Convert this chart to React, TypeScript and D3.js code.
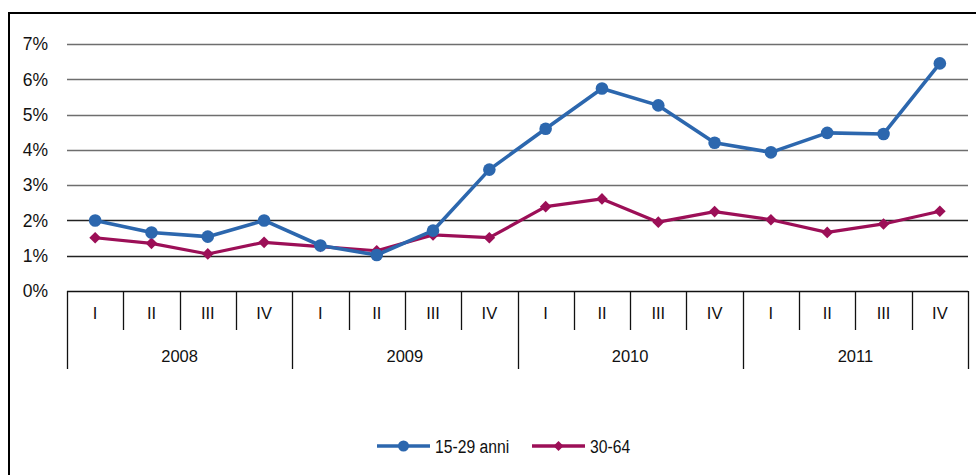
import * as d3 from "d3";
import { useEffect, useRef } from "react";

const YEARS = ["2008", "2009", "2010", "2011"];
const QUARTERS = ["I", "II", "III", "IV"];
const Y_TICKS = [0, 0.01, 0.02, 0.03, 0.04, 0.05, 0.06, 0.07];

// quarterly values, 2008 Q1 .. 2011 Q4
const YOUNG = [
  0.02, 0.0166, 0.0154, 0.02, 0.0129, 0.0102, 0.0171, 0.0344,
  0.046, 0.0574, 0.0526, 0.042, 0.0393, 0.0448, 0.0445, 0.0645,
];
const ADULT = [
  0.0151, 0.0135, 0.0105, 0.0138, 0.0126, 0.0114, 0.0159, 0.0151,
  0.0239, 0.0261, 0.0195, 0.0225, 0.0202, 0.0166, 0.019, 0.0226,
];

const BLUE = "#2c67ae";
const RED = "#9c0f57";
const FONT = "'Liberation Sans', Arial, sans-serif";

export default function App() {
  const svgRef = useRef<SVGSVGElement>(null);

  useEffect(() => {
    if (!svgRef.current) return;
    const W = 976;
    const H = 475;
    const svg = d3.select(svgRef.current);
    svg.selectAll("*").remove();
    svg.attr("width", W).attr("height", H);

    // outer frame (only top and left visible)
    svg
      .append("rect")
      .attr("x", 9)
      .attr("y", 13)
      .attr("width", 1000)
      .attr("height", 600)
      .attr("fill", "none")
      .attr("stroke", "#000")
      .attr("stroke-width", 2);

    const cats = YEARS.flatMap((y) => QUARTERS.map((q) => `${y}-${q}`));
    const x = d3.scaleBand<string>().domain(cats).range([67, 968]);
    const y = d3.scaleLinear().domain([0, 0.07]).range([291, 44]);
    const cx = (i: number) => (x(cats[i]) ?? 0) + x.bandwidth() / 2;

    // gridlines
    svg
      .append("g")
      .selectAll("line")
      .data(Y_TICKS.slice(1))
      .join("line")
      .attr("x1", 67)
      .attr("x2", 968)
      .attr("y1", (d) => Math.round(y(d)) + 0.5)
      .attr("y2", (d) => Math.round(y(d)) + 0.5)
      .attr("stroke", (d) => (d <= 0.02 ? "#222" : "#6e6e6e"))
      .attr("stroke-width", 1.3);

    // y labels
    svg
      .append("g")
      .selectAll("text")
      .data(Y_TICKS)
      .join("text")
      .attr("x", 48)
      .attr("y", (d) => y(d))
      .attr("dy", "0.36em")
      .attr("text-anchor", "end")
      .attr("font-family", FONT)
      .attr("font-size", 17.5)
      .attr("fill", "#111")
      .text((d) => d3.format(".0%")(d));

    // x axis
    const ax = svg.append("g").attr("stroke", "#111").attr("stroke-width", 1.3);
    ax.append("line")
      .attr("x1", 67)
      .attr("x2", 968)
      .attr("y1", 291.5)
      .attr("y2", 291.5);
    d3.range(cats.length + 1).forEach((i) => {
      const xx = Math.round(67 + i * x.bandwidth()) + 0.5;
      ax.append("line")
        .attr("x1", xx)
        .attr("x2", xx)
        .attr("y1", 291)
        .attr("y2", i % 4 === 0 ? 369 : 330);
    });

    svg
      .append("g")
      .selectAll("text")
      .data(cats)
      .join("text")
      .attr("x", (_, i) => cx(i))
      .attr("y", 313)
      .attr("dy", "0.36em")
      .attr("text-anchor", "middle")
      .attr("font-family", FONT)
      .attr("font-size", 16.5)
      .attr("fill", "#111")
      .text((d) => d.split("-")[1]);

    svg
      .append("g")
      .selectAll("text")
      .data(YEARS)
      .join("text")
      .attr("x", (_, i) => 67 + (i * 4 + 2) * x.bandwidth())
      .attr("y", 356)
      .attr("dy", "0.36em")
      .attr("text-anchor", "middle")
      .attr("font-family", FONT)
      .attr("font-size", 16.5)
      .attr("fill", "#111")
      .text((d) => d);

    const line = d3
      .line<number>()
      .x((_, i) => cx(i))
      .y((d) => y(d));

    const diamond = d3.symbol().type(d3.symbolSquare).size(68);

    const series = [
      { data: ADULT, color: RED, shape: "diamond", width: 3.2 },
      { data: YOUNG, color: BLUE, shape: "circle", width: 3.6 },
    ];
    series.forEach((s) => {
      const g = svg.append("g");
      g.append("path")
        .attr("d", line(s.data))
        .attr("fill", "none")
        .attr("stroke", s.color)
        .attr("stroke-width", s.width)
        .attr("stroke-linejoin", "round");
      if (s.shape === "circle") {
        g.selectAll("circle")
          .data(s.data)
          .join("circle")
          .attr("cx", (_, i) => cx(i))
          .attr("cy", (d) => y(d))
          .attr("r", 6.3)
          .attr("fill", s.color);
      } else {
        g.selectAll("path.m")
          .data(s.data)
          .join("path")
          .attr("class", "m")
          .attr("d", diamond)
          .attr("transform", (d, i) => `translate(${cx(i)},${y(d)}) rotate(45)`)
          .attr("fill", s.color);
      }
    });

    // legend
    const lg = svg.append("g");
    const items = [
      { label: "15-29 anni", color: BLUE, shape: "circle", x0: 377 },
      { label: "30-64", color: RED, shape: "diamond", x0: 532 },
    ];
    items.forEach((it) => {
      const ly = 446;
      lg.append("line")
        .attr("x1", it.x0)
        .attr("x2", it.x0 + 53)
        .attr("y1", ly)
        .attr("y2", ly)
        .attr("stroke", it.color)
        .attr("stroke-width", 3.4);
      if (it.shape === "circle") {
        lg.append("circle")
          .attr("cx", it.x0 + 26.5)
          .attr("cy", ly)
          .attr("r", 5.5)
          .attr("fill", it.color);
      } else {
        lg.append("path")
          .attr("d", d3.symbol().type(d3.symbolSquare).size(50)())
          .attr("transform", `translate(${it.x0 + 26.5},${ly}) rotate(45)`)
          .attr("fill", it.color);
      }
      lg.append("text")
        .attr("transform", `translate(${it.x0 + 58},${ly}) scale(0.85,1)`)
        .attr("dy", "0.36em")
        .attr("font-family", FONT)
        .attr("font-size", 18.5)
        .attr("fill", "#111")
        .text(it.label);
    });
  }, []);

  return (
    <div style={{ position: "absolute", left: 0, top: 0 }}>
      <svg ref={svgRef} style={{ display: "block" }} />
    </div>
  );
}
